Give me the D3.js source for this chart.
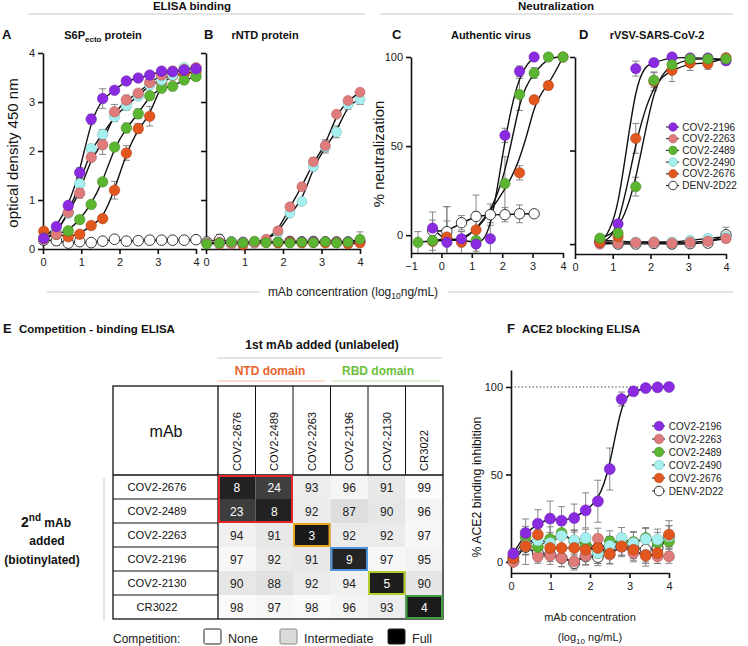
<!DOCTYPE html>
<html>
<head>
<meta charset="utf-8">
<script src="https://cdn.jsdelivr.net/npm/d3@7"></script>
<style>
  body { margin: 0; background: #fff; }
  svg text { font-family: "Liberation Sans", Arial, sans-serif; }
</style>
</head>
<body>
<svg id="fig" width="748" height="646"></svg>
<script>
// Series shared by the curve panels //
var seriesNames = ["COV2-2196", "COV2-2263", "COV2-2489", "COV2-2490", "COV2-2676", "DENV-2D22"];
var seriesColors = ["#8a2be2", "#e07b7b", "#5cb531", "#a6f0f0", "#e2571e", "#ffffff"];

// A: S6Pecto ELISA (OD 450) //
var xElisa = [0.02, 0.35, 0.66, 0.96, 1.26, 1.56, 1.87, 2.18, 2.49, 2.79, 3.1, 3.39, 3.69, 4.0];
var s6pOD = [
  [0.22, 0.46, 0.89, 1.56, 2.65, 3.07, 3.24, 3.43, 3.49, 3.55, 3.63, 3.62, 3.65, 3.68],
  [0.2, 0.3, 0.75, 1.14, 1.87, 2.13, 2.8, 3.04, 3.18, 3.4, 3.55, 3.63, 3.66, 3.7],
  [0.22, 0.3, 0.37, 0.6, 0.91, 1.37, 2.08, 2.47, 2.76, 3.13, 3.28, 3.32, 3.45, 3.52],
  [0.2, 0.35, 0.73, 1.33, 2.05, 2.34, 2.7, 2.93, 3.12, 3.35, 3.45, 3.55, 3.7, 3.68],
  [0.36, 0.3, 0.25, 0.3, 0.48, 0.62, 1.2, 1.96, 2.46, 2.71, 3.4, 3.54, 3.58, 3.62],
  [0.18, 0.17, 0.12, 0.15, 0.13, 0.16, 0.2, 0.16, 0.17, 0.18, 0.18, 0.18, 0.18, 0.19]
];
var s6pErr = [
  [0.03, 0.05, 0.05, 0.1, 0.1, 0.2, 0.05, 0.05, 0.03, 0.03, 0.05, 0.03, 0.03, 0.03],
  [0.03, 0.03, 0.05, 0.1, 0.05, 0.2, 0.15, 0.1, 0.05, 0.1, 0.05, 0.03, 0.03, 0.03],
  [0.03, 0.03, 0.03, 0.03, 0.05, 0.05, 0.05, 0.1, 0.1, 0.05, 0.05, 0.03, 0.03, 0.03],
  [0.03, 0.03, 0.05, 0.1, 0.05, 0.1, 0.1, 0.1, 0.05, 0.05, 0.05, 0.03, 0.03, 0.03],
  [0.03, 0.03, 0.03, 0.03, 0.05, 0.05, 0.18, 0.15, 0.1, 0.2, 0.1, 0.05, 0.05, 0.03],
  [0.03, 0.1, 0.03, 0.03, 0.03, 0.03, 0.03, 0.03, 0.03, 0.03, 0.03, 0.03, 0.03, 0.03]
];

// B: rNTD ELISA (OD 450) //
var rntdOD = [
  [0.12, 0.13, 0.12, 0.13, 0.14, 0.15, 0.13, 0.14, 0.15, 0.14, 0.15, 0.13, 0.14, 0.15],
  [0.12, 0.14, 0.1, 0.12, 0.13, 0.2, 0.37, 0.86, 1.27, 1.78, 2.11, 2.75, 3.03, 3.2],
  [0.1, 0.12, 0.14, 0.12, 0.16, 0.13, 0.14, 0.12, 0.14, 0.13, 0.15, 0.12, 0.14, 0.2],
  [0.13, 0.12, 0.15, 0.13, 0.12, 0.18, 0.33, 0.73, 0.97, 1.68, 2.08, 2.39, 2.95, 3.05],
  [0.12, 0.1, 0.14, 0.08, 0.12, 0.13, 0.12, 0.14, 0.12, 0.13, 0.12, 0.13, 0.1, 0.12],
  [0.15, 0.2, 0.15, 0.14, 0.13, 0.15, 0.14, 0.16, 0.15, 0.16, 0.15, 0.15, 0.15, 0.16]
];
var rntdErr = [
  [0.03, 0.03, 0.03, 0.03, 0.03, 0.03, 0.03, 0.03, 0.03, 0.03, 0.03, 0.03, 0.03, 0.03],
  [0.03, 0.03, 0.03, 0.03, 0.03, 0.03, 0.05, 0.05, 0.05, 0.08, 0.12, 0.05, 0.05, 0.05],
  [0.03, 0.03, 0.05, 0.03, 0.03, 0.03, 0.03, 0.03, 0.03, 0.03, 0.03, 0.03, 0.03, 0.15],
  [0.03, 0.03, 0.03, 0.03, 0.03, 0.03, 0.05, 0.05, 0.05, 0.08, 0.12, 0.12, 0.1, 0.1],
  [0.03, 0.03, 0.03, 0.03, 0.03, 0.03, 0.03, 0.03, 0.03, 0.03, 0.03, 0.03, 0.03, 0.05],
  [0.03, 0.1, 0.03, 0.03, 0.03, 0.03, 0.03, 0.03, 0.03, 0.03, 0.03, 0.03, 0.03, 0.03]
];

// C: authentic virus neutralization (%) //
var xAuth = [-0.77, -0.29, 0.18, 0.66, 1.14, 1.61, 2.09, 2.57, 3.05, 3.52, 4.0];
var authNeut = [
  [null, 4, -4, -2, -5, -2, 56, 92, 100, null, null],
  [],
  [-4, -3, null, null, -3, null, 29, 79, 91, 100, 100],
  [],
  [null, -3.5, -1, -4, 3, null, null, 35, 76, 84, 100],
  [null, 2.5, 2, 7, 10.5, 11.5, 11.5, 12, 12, null, null]
];
var authErr = [
  [0, 9, 12, 4, 8, 9, 4, 3, 1, 0, 0],
  [],
  [6, 7, 0, 0, 6, 0, 15, 9, 3, 1, 1],
  [],
  [0, 5, 17, 6, 10, 0, 0, 4, 2, 2, 1],
  [0, 6, 14, 4, 12, 6, 4, 5, 2, 0, 0]
];

// D: rVSV-SARS-CoV-2 neutralization (%) //
var xVsv = [0.66, 1.14, 1.61, 2.09, 2.57, 3.05, 3.52, 4.0];
var vsvNeut = [
  [1, 10.8, 93.8, 97, 100, 99.5, 99.5, 98],
  [0, 0.5, 0.8, 1, 0.5, 1, 1.5, 3],
  [3.2, 5.9, 30.7, 87.6, 95.9, 99, 99, 99],
  [2, 1.5, 1, 1.2, 1, 2, 3, 4],
  [1, 4, 56.5, 87, 92.9, 96.8, 96.4, 99.6],
  [1.5, 0, 0, 0.3, 0, 0.2, 0.5, 5]
];
var vsvErr = [
  [1, 2, 4, 2, 1, 1, 1, 2],
  [1, 1, 1, 1, 1, 1, 1, 1],
  [1, 2, 5, 4, 3, 1, 1, 1],
  [1, 1, 1, 1, 1, 1, 1, 1],
  [1, 1, 8, 5, 6, 4, 3, 2],
  [1, 1, 1, 1, 1, 1, 1, 4]
];

// F: ACE2 blocking ELISA (% inhibition) //
var xAce2 = [0.06, 0.37, 0.68, 0.99, 1.28, 1.6, 1.89, 2.2, 2.5, 2.8, 3.1, 3.41, 3.71, 4.0];
var ace2Inh = [
  [4.8, 16.6, 21.9, 24.8, 23.6, 25.1, 29.5, 34.7, 53.1, 93.1, 97.5, 99.4, 99.8, 100],
  [0, 9.3, 3.2, 3.6, 2.3, 0.4, 3.6, 13.3, 4.2, 8.6, 5.1, 4.2, 3.2, 3.2],
  [2.3, 14.3, 8.6, 13.1, 16.6, 12, 9.9, 5.1, 11.8, 11.2, 11.4, 13.7, 10.9, 11.8],
  [3.2, 9.3, 12.4, 10.9, 15, 12.4, 13.7, 5.1, 9.3, 13.7, 10.9, 13.1, 12.8, 14.7],
  [2.3, 9, 15.6, 8, 8, 8, 7, 8, 4.8, 9, 7, 3.6, 5.1, 15.6],
  [0.4, 8.6, 5.1, 4.2, 2.3, -0.6, 3.2, 2.9, 8.6, 9, 8, 7, 8, 14.7]
];
var ace2Err = [
  [3, 8, 8, 10, 8, 8, 10, 12, 12, 4, 2, 1, 1, 1],
  [2, 5, 4, 5, 5, 4, 5, 6, 5, 5, 5, 5, 4, 4],
  [3, 6, 6, 7, 8, 6, 6, 6, 6, 5, 6, 6, 6, 6],
  [3, 5, 6, 6, 6, 6, 5, 6, 5, 6, 6, 6, 6, 6],
  [3, 5, 6, 5, 5, 6, 6, 7, 6, 5, 6, 6, 6, 8],
  [2, 10, 5, 4, 5, 4, 5, 5, 6, 6, 6, 7, 6, 6]
];

// E: competition-binding ELISA (% of uncompeted binding) //
var compCols = ["COV2-2676", "COV2-2489", "COV2-2263", "COV2-2196", "COV2-2130", "CR3022"];
var compRows = ["COV2-2676", "COV2-2489", "COV2-2263", "COV2-2196", "COV2-2130", "CR3022"];
var compValues = [
  [8, 24, 93, 96, 91, 99],
  [23, 8, 92, 87, 90, 96],
  [94, 91, 3, 92, 92, 97],
  [97, 92, 91, 9, 97, 95],
  [90, 88, 92, 94, 5, 90],
  [98, 97, 98, 96, 93, 4]
];
var boxSpans = [[0, 2], [2, 1], [3, 1], [4, 1], [5, 1]];
var boxColors = ["#e3262b", "#e7a81d", "#4d93e0", "#b8cc2b", "#3f9e3f"];
var tierNames = ["None", "Intermediate", "Full"];
var tierFills = ["#ffffff", "#d9dbd9", "#000000"];

var svg = d3.select("#fig");
var FONT = '"Liberation Sans", Arial, sans-serif';

function txt(x, y, s, size, opts) {
  opts = opts || {};
  return svg.append("text")
    .attr("x", x).attr("y", y)
    .attr("font-size", size)
    .attr("font-weight", opts.bold ? "bold" : null)
    .attr("text-anchor", opts.anchor || "start")
    .attr("fill", opts.fill || "#111")
    .text(s);
}

function hline(x1, x2, y, color, w) {
  svg.append("line").attr("x1", x1).attr("x2", x2).attr("y1", y).attr("y2", y)
    .attr("stroke", color).attr("stroke-width", w || 1);
}

// Curve panel //
function drawPanel(p) {
  var g = svg.append("g");
  var x = d3.scaleLinear().domain(p.xd).range(p.xr);
  var y = d3.scaleLinear().domain(p.yd).range(p.yr);

  g.append("g")
    .attr("transform", `translate(0, ${p.yr[0]})`)
    .call(d3.axisBottom(x).tickValues(p.xt).tickFormat(d3.format("d"))
      .tickSize(5).tickSizeOuter(0).tickPadding(4));
  var leftAxis = d3.axisLeft(y).tickValues(p.yt).tickFormat(p.yLab ? d3.format("d") : "")
    .tickSize(5).tickSizeOuter(0).tickPadding(3);
  g.append("g")
    .attr("transform", `translate(${p.xr[0]}, 0)`)
    .call(leftAxis);
  g.selectAll(".domain, .tick line").attr("stroke", "#111").attr("stroke-width", 1.6);
  g.selectAll(".tick text").attr("font-size", 11).attr("fill", "#222").attr("font-family", FONT);

  if (p.dotted != null) {
    g.append("line")
      .attr("x1", x(p.xd[0])).attr("x2", x(4))
      .attr("y1", y(p.dotted)).attr("y2", y(p.dotted))
      .attr("stroke", "#222").attr("stroke-width", 1).attr("stroke-dasharray", "1.2,2.4");
  }

  var series = p.order.map(function(i) {
    return {
      i: i,
      pts: p.xs.map(function(xv, k) { return {x: xv, v: p.vals[i][k], e: p.errs[i][k]}; })
        .filter(function(d) { return d.v != null; })
    };
  });

  // Error bars //
  series.forEach(function(s) {
    var eb = g.append("g").attr("stroke", "#7a7a7a").attr("stroke-width", 0.9);
    s.pts.filter(function(d) { return d.e > 0; }).forEach(function(d) {
      var cx = x(d.x);
      var lo = Math.max(d.v - d.e, p.yd[0]);
      var hi = Math.min(d.v + d.e, p.yd[1]);
      eb.append("line").attr("x1", cx).attr("x2", cx).attr("y1", y(lo)).attr("y2", y(hi));
      eb.append("line").attr("x1", cx - 3.5).attr("x2", cx + 3.5).attr("y1", y(hi)).attr("y2", y(hi));
      if (lo > p.yd[0]) {
        eb.append("line").attr("x1", cx - 3.5).attr("x2", cx + 3.5).attr("y1", y(lo)).attr("y2", y(lo));
      }
    });
  });

  // Fit lines //
  series.forEach(function(s) {
    if (s.pts.length < 2) return;
    var plain = p.linear && s.i !== 0;
    g.append("path").datum(s.pts)
      .attr("fill", "none")
      .attr("stroke", "#111")
      .attr("stroke-width", plain ? 1 : 1.4)
      .attr("d", d3.line()
        .x(function(d) { return x(d.x); })
        .y(function(d) { return y(d.v); })
        .curve(plain ? d3.curveLinear : d3.curveBasis));
  });

  // Circles //
  series.forEach(function(s) {
    g.selectAll(null).data(s.pts).enter().append("circle")
      .attr("cx", function(d) { return x(d.x); })
      .attr("cy", function(d) { return y(d.v); })
      .attr("r", p.r)
      .attr("fill", seriesColors[s.i])
      .attr("stroke", s.i === 5 ? "#222" : d3.color(seriesColors[s.i]).darker(0.9))
      .attr("stroke-width", s.i === 5 ? 0.9 : 0.5);
  });
}

function drawLegend(cx, y0, dy, r) {
  seriesNames.forEach(function(name, i) {
    var yy = y0 + i * dy;
    hline(cx - 7, cx + 6, yy, "#111", 1);
    svg.append("circle").attr("cx", cx).attr("cy", yy).attr("r", r)
      .attr("fill", seriesColors[i])
      .attr("stroke", i === 5 ? "#222" : d3.color(seriesColors[i]).darker(0.9))
      .attr("stroke-width", i === 5 ? 0.9 : 0.5);
    txt(cx + r + 5, yy + 3.6, name, 10, {fill: "#222"});
  });
}

// ---------- Top row ----------
txt(192, 10, "ELISA binding", 11.5, {bold: true, anchor: "middle"});
hline(28, 365, 14, "#c8c8c8");
txt(556, 10, "Neutralization", 11.5, {bold: true, anchor: "middle"});
hline(380, 733, 14, "#c8c8c8");

txt(2, 39, "A", 13, {bold: true});
var tA = txt(103, 39, "S6P", 11, {bold: true, anchor: "middle"});
tA.append("tspan").attr("font-size", 8).attr("dy", 3).text("ecto");
tA.append("tspan").attr("dy", -3).text(" protein");
txt(204, 39, "B", 13, {bold: true});
txt(265, 39, "rNTD protein", 11, {bold: true, anchor: "middle"});
txt(392, 39, "C", 13, {bold: true});
txt(491, 39, "Authentic virus", 11, {bold: true, anchor: "middle"});
txt(579, 39, "D", 13, {bold: true});
txt(657, 39, "rVSV-SARS-CoV-2", 11, {bold: true, anchor: "middle"});

drawPanel({xd: [0, 4], xr: [43, 196], yd: [0, 4], yr: [249, 53],
  xt: [0, 1, 2, 3, 4], yt: [0, 1, 2, 3, 4], yLab: true,
  xs: xElisa, vals: s6pOD, errs: s6pErr, r: 5.3, order: [5, 4, 2, 3, 1, 0]});

drawPanel({xd: [0, 4], xr: [206, 360], yd: [0, 4], yr: [249, 53],
  xt: [0, 1, 2, 3, 4], yt: [0, 1, 2, 3, 4], yLab: false,
  xs: xElisa, vals: rntdOD, errs: rntdErr, r: 5, order: [5, 0, 4, 3, 1, 2]});

drawPanel({xd: [-1, 4], xr: [411, 563], yd: [-10, 100], yr: [253, 57],
  xt: [-1, 0, 1, 2, 3, 4], yt: [0, 50, 100], yLab: true,
  xs: xAuth, vals: authNeut, errs: authErr, r: 5.2, order: [5, 4, 2, 0]});

drawPanel({xd: [0, 4], xr: [575, 726], yd: [-5.3, 100], yr: [254, 57],
  xt: [0, 1, 2, 3, 4], yt: [0, 50, 100], yLab: false,
  xs: xVsv, vals: vsvNeut, errs: vsvErr, r: 5.2, order: [5, 3, 1, 0, 4, 2]});

drawLegend(673, 127, 11.7, 4.3);

svg.append("text").attr("transform", "translate(18,153) rotate(-90)")
  .attr("text-anchor", "middle").attr("font-size", 15).attr("fill", "#111")
  .text("optical density 450 nm");
svg.append("text").attr("transform", "translate(384,154) rotate(-90)")
  .attr("text-anchor", "middle").attr("font-size", 15).attr("fill", "#111")
  .text("% neutralization");

hline(47, 260, 292, "#c8c8c8");
hline(448, 733, 292, "#c8c8c8");
var tX = txt(353, 296, "mAb concentration (log", 12, {anchor: "middle", fill: "#222"});
tX.append("tspan").attr("font-size", 8.5).attr("dy", 3).text("10");
tX.append("tspan").attr("dy", -3).text("ng/mL)");

// ---------- E: competition table ----------
txt(3, 333, "E", 13, {bold: true});
txt(19, 333, "Competition - binding ELISA", 11.5, {bold: true});
txt(322, 349, "1st mAb added (unlabeled)", 12, {bold: true, anchor: "middle"});
hline(217, 442, 358, "#c8c8c8");
txt(270, 375, "NTD domain", 12, {bold: true, anchor: "middle", fill: "#e8642c"});
hline(217, 325, 381, "#f2b89c");
txt(378, 375, "RBD domain", 12, {bold: true, anchor: "middle", fill: "#6cbf3a"});
hline(332, 440, 381, "#bfe0a8");

var colX = d3.scaleBand().domain(compCols).range([218, 443]);
var rowY = d3.scaleBand().domain(compRows).range([475, 619]);
var cellColor = d3.scaleLinear().domain([0, 30, 85, 100])
  .range(["#141414", "#4a4a4a", "#d9d9d9", "#ffffff"]);

var cells = [];
compRows.forEach(function(rn, r) {
  compCols.forEach(function(cn, c) {
    cells.push({row: rn, col: cn, v: compValues[r][c]});
  });
});

svg.selectAll(".cell").data(cells).enter().append("rect")
  .attr("class", "cell")
  .attr("x", function(d) { return colX(d.col); })
  .attr("y", function(d) { return rowY(d.row); })
  .attr("width", colX.bandwidth())
  .attr("height", rowY.bandwidth())
  .attr("fill", function(d) { return cellColor(d.v); });

svg.selectAll(".cellText").data(cells).enter().append("text")
  .attr("class", "cellText")
  .attr("x", function(d) { return colX(d.col) + colX.bandwidth() / 2; })
  .attr("y", function(d) { return rowY(d.row) + rowY.bandwidth() / 2 + 4.5; })
  .attr("text-anchor", "middle")
  .attr("font-size", 12)
  .attr("fill", function(d) { return d.v < 50 ? "#fff" : "#222"; })
  .text(function(d) { return d.v; });

// column headers //
compCols.forEach(function(cn) {
  var cx = colX(cn) + colX.bandwidth() / 2;
  svg.append("text").attr("transform", `translate(${cx + 4.2},471) rotate(-90)`)
    .attr("font-size", 11.2).attr("fill", "#111").text(cn);
});
// row labels //
compRows.forEach(function(rn) {
  txt(157, rowY(rn) + rowY.bandwidth() / 2 + 4.2, rn, 11.2, {anchor: "middle"});
});
txt(166, 437, "mAb", 16, {anchor: "middle"});

// table lines //
svg.append("rect").attr("x", 113).attr("y", 386).attr("width", 330).attr("height", 233)
  .attr("fill", "none").attr("stroke", "#111").attr("stroke-width", 1.3);
svg.append("line").attr("x1", 218).attr("x2", 218).attr("y1", 386).attr("y2", 619)
  .attr("stroke", "#111").attr("stroke-width", 1.3);
hline(113, 443, 475, "#111", 1.3);
compCols.slice(1).forEach(function(cn) {
  svg.append("line").attr("x1", colX(cn)).attr("x2", colX(cn)).attr("y1", 386).attr("y2", 475)
    .attr("stroke", "#111").attr("stroke-width", 1);
});
compRows.slice(1).forEach(function(rn) {
  hline(113, 218, rowY(rn), "#111", 1);
});

// diagonal competition groups //
boxSpans.forEach(function(b, k) {
  svg.append("rect")
    .attr("x", colX(compCols[b[0]]) + 1)
    .attr("y", rowY(compRows[b[0]]) + 1)
    .attr("width", b[1] * colX.bandwidth() - 2)
    .attr("height", b[1] * rowY.bandwidth() - 2)
    .attr("fill", "none").attr("stroke", boxColors[k]).attr("stroke-width", 2);
});

// side label //
svg.append("line").attr("x1", 104).attr("x2", 104).attr("y1", 478).attr("y2", 620)
  .attr("stroke", "#c8c8c8").attr("stroke-width", 1);
var t2 = txt(46, 527, "2", 14, {bold: true, anchor: "middle"});
t2.append("tspan").attr("font-size", 10).attr("dy", -6).text("nd");
t2.append("tspan").attr("font-size", 12).attr("dy", 6).text(" mAb");
txt(47, 545, "added", 12, {bold: true, anchor: "middle"});
txt(42, 564, "(biotinylated)", 12, {bold: true, anchor: "middle"});

// competition legend //
txt(113, 643, "Competition:", 12, {fill: "#222"});
var tierX = [204, 280, 388];
tierNames.forEach(function(n, k) {
  svg.append("rect").attr("x", tierX[k]).attr("y", 629).attr("width", 17).attr("height", 15)
    .attr("rx", 1.5).attr("fill", tierFills[k])
    .attr("stroke", k === 1 ? "#888" : "#222").attr("stroke-width", 1);
  txt(tierX[k] + 24, 643, n, 12.5, {fill: "#222"});
});

// ---------- F: ACE2 blocking ----------
txt(507, 333, "F", 13, {bold: true});
txt(522, 333, "ACE2 blocking ELISA", 11.5, {bold: true});

drawPanel({xd: [0, 4], xr: [511, 669], yd: [-6.3, 109.7], yr: [573, 370],
  xt: [0, 1, 2, 3, 4], yt: [0, 50, 100], yLab: true, dotted: 100, linear: true,
  xs: xAce2, vals: ace2Inh, errs: ace2Err, r: 5.5, order: [5, 1, 2, 3, 4, 0]});

drawLegend(659, 426, 13, 4.8);

svg.append("text").attr("transform", "translate(481,487) rotate(-90)")
  .attr("text-anchor", "middle").attr("font-size", 12.3).attr("fill", "#111")
  .text("% ACE2 binding inhibition");
txt(590, 621, "mAb concentration", 11, {anchor: "middle", fill: "#222"});
var tF = txt(590, 641, "(log", 11, {anchor: "middle", fill: "#222"});
tF.append("tspan").attr("font-size", 8).attr("dy", 2.5).text("10");
tF.append("tspan").attr("dy", -2.5).text(" ng/mL)");
</script>
</body>
</html>
